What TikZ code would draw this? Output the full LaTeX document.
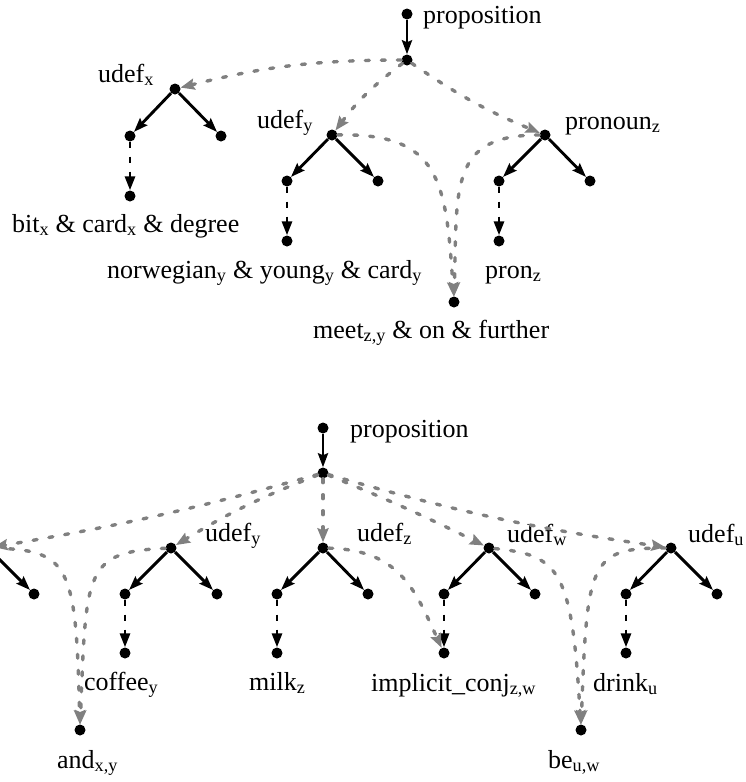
\documentclass[tikz,border=0pt]{standalone}
\usepackage{fontspec}
\setmainfont{Liberation Serif}
\usetikzlibrary{arrows.meta}
\begin{document}
\begin{tikzpicture}[x=1pt,y=-1pt,
 dot/.style={circle,fill=black,inner sep=0pt,minimum size=11pt},
 lbl/.style={anchor=base west,inner sep=0pt,font=\fontsize{26}{30}\selectfont},
 blk/.style={line width=2.9pt,-{Stealth[length=14pt,width=10pt,inset=2pt]}},
 dsh/.style={line width=2.9pt,dash pattern=on 6pt off 9pt,-{Triangle[length=14pt,width=10pt]}},
 gry/.style={draw=gray,line width=3.4pt,line cap=round,dash pattern=on 4pt off 12pt,-{Stealth[length=14pt,width=11pt,inset=2pt,fill=gray]}}
]
\useasboundingbox (0,0) rectangle (745,782);
% ---------- top diagram ----------
\node[dot] (t0) at (407,14) {};
\node[dot] (t1) at (407,60) {};
\node[dot] (tx) at (175,89) {};
\node[dot] (txl) at (130,136) {};
\node[dot] (txr) at (221,136) {};
\node[dot] (txf) at (130,196) {};
\node[dot] (ty) at (332,135) {};
\node[dot] (tyl) at (287,181) {};
\node[dot] (tyr) at (378,181) {};
\node[dot] (tyf) at (287,241) {};
\node[dot] (tz) at (545,135) {};
\node[dot] (tzl) at (499,181) {};
\node[dot] (tzr) at (590,181) {};
\node[dot] (tzf) at (499,241) {};
\node[dot] (tm) at (454,302) {};
\node[lbl] (l1) at (423,23) {proposition};
\node[lbl] (l2) at (98,82) {udef\textsubscript{x}};
\node[lbl] (l3) at (257,128) {udef\textsubscript{y}};
\node[lbl] (l4) at (565,129) {pronoun\textsubscript{z}};
\node[lbl] (l5) at (12,232) {bit\textsubscript{x} \& card\textsubscript{x} \& degree};
\node[lbl] (l6) at (107,278) {norwegian\textsubscript{y} \& young\textsubscript{y} \& card\textsubscript{y}};
\node[lbl] (l7) at (485,278) {pron\textsubscript{z}};
\node[lbl] (l8) at (313,338) {meet\textsubscript{z,y} \& on \& further};
\draw[blk] (t0) -- (t1);
\draw[blk] (tx) -- (txl); \draw[blk] (tx) -- (txr); \draw[dsh] (txl) -- (txf);
\draw[blk] (ty) -- (tyl); \draw[blk] (ty) -- (tyr); \draw[dsh] (tyl) -- (tyf);
\draw[blk] (tz) -- (tzl); \draw[blk] (tz) -- (tzr); \draw[dsh] (tzl) -- (tzf);
\draw[gry] (t1) to[bend right=7] (tx);
\draw[gry] (t1) to[bend right=8] (ty);
\draw[gry] (t1) to[bend right=6] (tz);
\draw[gry] (ty) .. controls (440,133) and (446,180) .. (tm);
\draw[gry] (tz) .. controls (450,135) and (457,185) .. (tm);
% ---------- bottom diagram ----------
\node[dot] (b0) at (323,428) {};
\node[dot] (b1) at (323,473) {};
\node[dot] (bx) at (-12,548) {};
\node[dot] (bxr) at (34,594) {};
\node[dot] (by) at (171,548) {};
\node[dot] (byl) at (125,594) {};
\node[dot] (byr) at (217,594) {};
\node[dot] (byf) at (125,653) {};
\node[dot] (bz) at (323,548) {};
\node[dot] (bzl) at (277,594) {};
\node[dot] (bzr) at (368,594) {};
\node[dot] (bzf) at (277,653) {};
\node[dot] (bw) at (489,548) {};
\node[dot] (bwl) at (444,594) {};
\node[dot] (bwr) at (535,594) {};
\node[dot] (bwf) at (444,653) {};
\node[dot] (bu) at (671,548) {};
\node[dot] (bul) at (626,594) {};
\node[dot] (bur) at (717,594) {};
\node[dot] (buf) at (626,653) {};
\node[dot] (band) at (80,730) {};
\node[dot] (bbe) at (581,730) {};
\node[lbl] (m1) at (350,437) {proposition};
\node[lbl] (m2) at (205,541) {udef\textsubscript{y}};
\node[lbl] (m3) at (357,541) {udef\textsubscript{z}};
\node[lbl] (m4) at (507,542) {udef\textsubscript{w}};
\node[lbl] (m5) at (688,542) {udef\textsubscript{u}};
\node[lbl] (m6) at (84,690) {coffee\textsubscript{y}};
\node[lbl] (m7) at (249,690) {milk\textsubscript{z}};
\node[lbl] (m8) at (371,691) {implicit\_conj\textsubscript{z,w}};
\node[lbl] (m9) at (593,691) {drink\textsubscript{u}};
\node[lbl] (m10) at (57,768) {and\textsubscript{x,y}};
\node[lbl] (m11) at (548,768) {be\textsubscript{u,w}};
\draw[blk] (b0) -- (b1);
\draw[blk] (bx) -- (bxr);
\draw[blk] (by) -- (byl); \draw[blk] (by) -- (byr); \draw[dsh] (byl) -- (byf);
\draw[blk] (bz) -- (bzl); \draw[blk] (bz) -- (bzr); \draw[dsh] (bzl) -- (bzf);
\draw[blk] (bw) -- (bwl); \draw[blk] (bw) -- (bwr); \draw[dsh] (bwl) -- (bwf);
\draw[blk] (bu) -- (bul); \draw[blk] (bu) -- (bur); \draw[dsh] (bul) -- (buf);
\draw[gry] (b1) to[bend left=3] (bx);
\draw[gry] (b1) to[bend right=5] (by);
\draw[gry] (b1) -- (bz);
\draw[gry] (b1) to[bend left=2] (bw);
\draw[gry] (b1) to[bend right=4] (bu);
\draw[gry] (bx) .. controls (70,550) and (76,565) .. (band);
\draw[gry] (by) .. controls (85,552) and (86,570) .. (band);
\draw[gry] (bz) .. controls (400,550) and (415,590) .. (bwf);
\draw[gry] (bw) .. controls (560,555) and (572,570) .. (bbe);
\draw[gry] (bu) .. controls (590,548) and (587,560) .. (bbe);
\end{tikzpicture}
\end{document}
